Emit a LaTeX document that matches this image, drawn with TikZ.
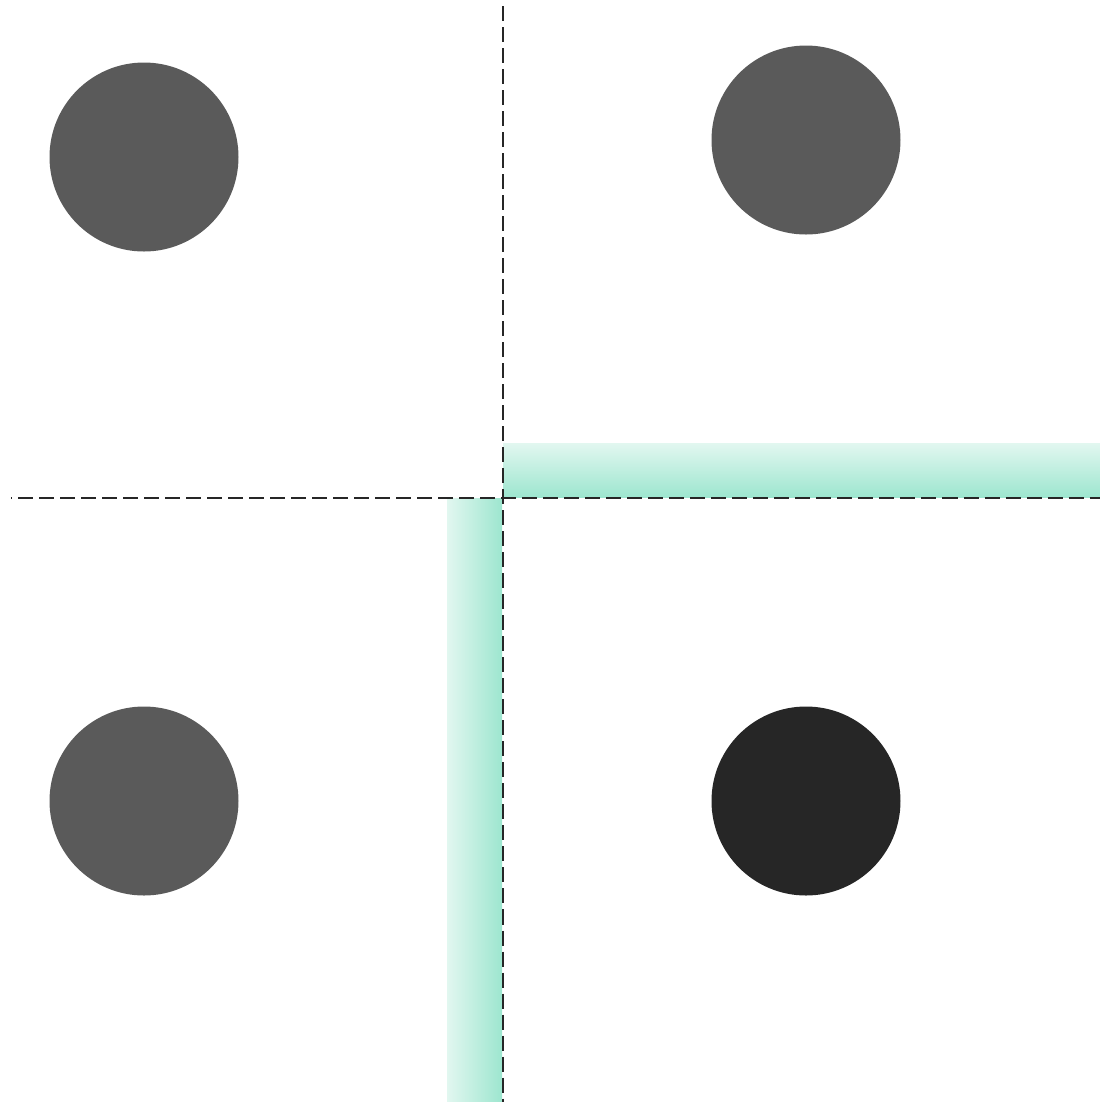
\documentclass[tikz,border=0pt]{standalone}
\usepackage{tikz}

\definecolor{dotgray}{HTML}{5A5A5A}
\definecolor{dotdark}{HTML}{262626}
\definecolor{mintlight}{HTML}{E2F7F0}
\definecolor{mintdark}{HTML}{9DE6CF}

\tikzset{
    dot/.style={fill=dotgray},
    cutline/.style={line width=0.02cm, black!85, dash pattern=on 0.15cm off 0.06cm},
}

\begin{document}
\begin{tikzpicture}[x=0.01cm, y=-0.01cm]
        \useasboundingbox (0,0) rectangle (1100,1102);

        % highlighted edges
        \shade[top color=mintlight, bottom color=mintdark] (503,443) rectangle (1100,497);
        \shade[left color=mintlight, right color=mintdark] (447,498) rectangle (502,1102);

        % cut lines
        \draw[cutline, dash phase=0.14cm] (11,497.5) -- (1100,497.5);
        \draw[cutline] (502.5,6) -- (502.5,1102);

        % points
        \fill[dot] (144,157) circle (94.5);
        \fill[dot] (806,140) circle (94.5);
        \fill[dot] (144,801) circle (94.5);
        \fill[dotdark] (806,801) circle (94.5);
    \end{tikzpicture}
\end{document}
